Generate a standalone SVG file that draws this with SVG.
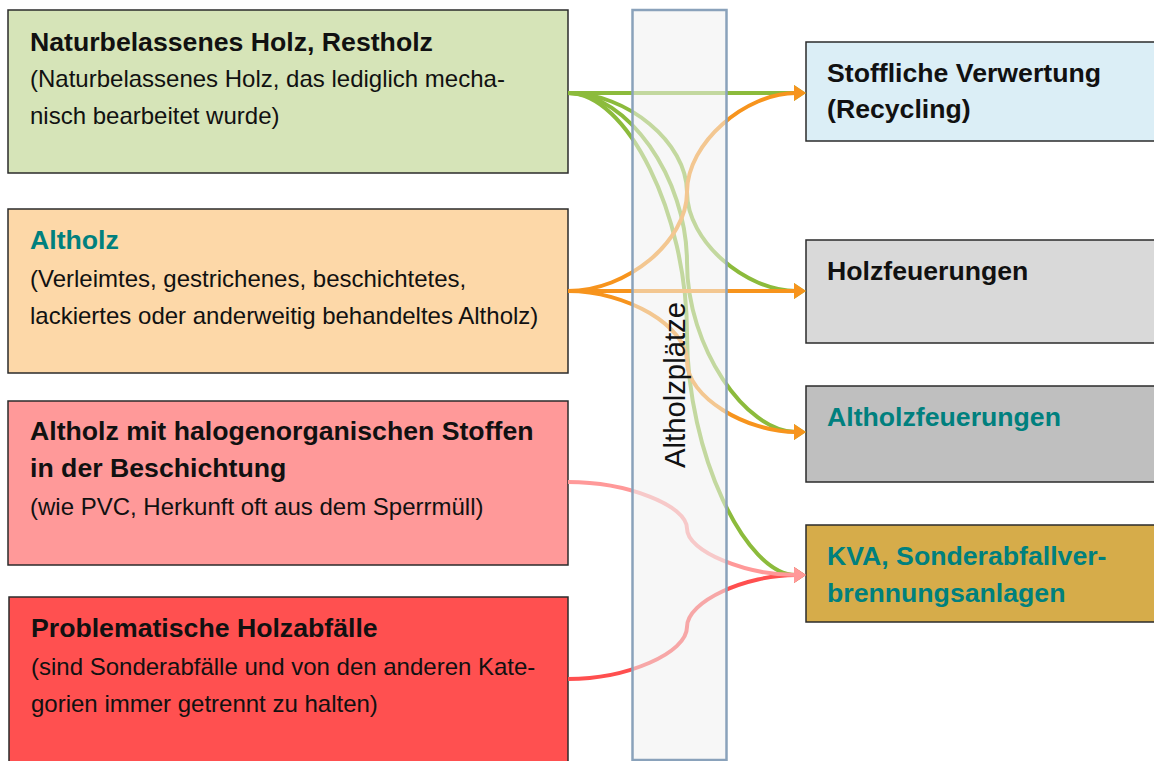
<svg xmlns="http://www.w3.org/2000/svg" width="1154" height="761" viewBox="0 0 1154 761">
<style>
  .box { stroke: #2b2b2b; stroke-width: 1.5; }
  .t { font-family: "Liberation Sans", Arial, sans-serif; font-size: 26.67px; font-weight: bold; fill: #111; }
  .teal { fill: #00807e; }
  .s { font-family: "Liberation Sans", Arial, sans-serif; font-size: 24px; fill: #111; }
  .c { fill: none; stroke-width: 4; }
  .g { stroke: #8cbb3c; }
  .o { stroke: #f7941d; }
  .p { stroke: #ff9999; }
  .r { stroke: #ff4f4f; }
</style>
<defs>
  <marker id="ag" markerUnits="userSpaceOnUse" markerWidth="16" markerHeight="18" viewBox="0 -9 16 18" refX="2" refY="0" orient="auto"><path d="M0,-8 L12,0 L0,8 z" fill="#8cbb3c"/></marker>
  <marker id="ao" markerUnits="userSpaceOnUse" markerWidth="16" markerHeight="18" viewBox="0 -9 16 18" refX="2" refY="0" orient="auto"><path d="M0,-8 L12,0 L0,8 z" fill="#f7941d"/></marker>
  <marker id="ap" markerUnits="userSpaceOnUse" markerWidth="16" markerHeight="18" viewBox="0 -9 16 18" refX="2" refY="0" orient="auto"><path d="M0,-8 L12,0 L0,8 z" fill="#ff9999"/></marker>
  <marker id="ar" markerUnits="userSpaceOnUse" markerWidth="16" markerHeight="18" viewBox="0 -9 16 18" refX="2" refY="0" orient="auto"><path d="M0,-8 L12,0 L0,8 z" fill="#ff4f4f"/></marker>
</defs>
<rect width="1154" height="761" fill="#ffffff"/>

<g id="n1">
  <rect class="box" x="8" y="10" width="560" height="163" fill="#d6e4b8"/>
  <text class="t" x="30" y="51">Naturbelassenes Holz, Restholz</text>
  <text class="s" x="30" y="87">(Naturbelassenes Holz, das lediglich mecha-</text>
  <text class="s" x="30" y="124">nisch bearbeitet wurde)</text>
</g>
<g id="n2">
  <rect class="box" x="8" y="209" width="560" height="164" fill="#fdd8a8"/>
  <text class="t teal" x="30" y="249">Altholz</text>
  <text class="s" x="30" y="287">(Verleimtes, gestrichenes, beschichtetes,</text>
  <text class="s" x="30" y="324">lackiertes oder anderweitig behandeltes Altholz)</text>
</g>
<g id="n3">
  <rect class="box" x="8" y="401" width="560" height="164" fill="#ff9999"/>
  <text class="t" x="30" y="440">Altholz mit halogenorganischen Stoffen</text>
  <text class="t" x="30" y="477">in der Beschichtung</text>
  <text class="s" x="30" y="515">(wie PVC, Herkunft oft aus dem Sperrmüll)</text>
</g>
<g id="n4">
  <rect class="box" x="9" y="597" width="559" height="170" fill="#ff5050"/>
  <text class="t" x="31" y="637">Problematische Holzabfälle</text>
  <text class="s" x="31" y="675">(sind Sonderabfälle und von den anderen Kate-</text>
  <text class="s" x="31" y="712">gorien immer getrennt zu halten)</text>
</g>

<g id="r1">
  <rect class="box" x="806" y="42" width="360" height="99" fill="#dbeef6"/>
  <text class="t" x="827" y="82">Stoffliche Verwertung</text>
  <text class="t" x="827" y="118">(Recycling)</text>
</g>
<g id="r2">
  <rect class="box" x="806" y="240" width="360" height="103" fill="#d9d9d9"/>
  <text class="t" x="827" y="280">Holzfeuerungen</text>
</g>
<g id="r3">
  <rect class="box" x="806" y="386" width="360" height="96" fill="#bfbfbf"/>
  <text class="t teal" x="827" y="426">Altholzfeuerungen</text>
</g>
<g id="r4">
  <rect class="box" x="806" y="525" width="360" height="97" fill="#d6ac4a"/>
  <text class="t teal" x="827" y="565">KVA, Sonderabfallver-</text>
  <text class="t teal" x="827" y="602">brennungsanlagen</text>
</g>

<g id="connectors">
  <path class="c g" marker-end="url(#ag)" d="M568,93 H796"/>
  <path class="c g" marker-end="url(#ag)" d="M568,93 C627,93 687,142.5 687,192 C687,241.5 746,291 796,291"/>
  <path class="c g" marker-end="url(#ag)" d="M568,93 C627,93 687,177.75 687,262.5 C687,347.25 746,432 796,432"/>
  <path class="c g" marker-end="url(#ag)" d="M568,93 C627,93 687,213.5 687,334 C687,454.5 746,575 796,575"/>
  <path class="c o" marker-end="url(#ao)" d="M568,291 C627,291 687,241.5 687,192 C687,142.5 746,93 796,93"/>
  <path class="c o" marker-end="url(#ao)" d="M568,291 H796"/>
  <path class="c o" marker-end="url(#ao)" d="M568,291 C627,291 687,326.25 687,361.5 C687,396.75 746,432 796,432"/>
  <path class="c r" marker-end="url(#ar)" d="M568,679 C627,679 687,653 687,627 C687,601 746,575 796,575"/>
  <path class="c p" marker-end="url(#ap)" d="M568,482 C627,482 687,505.25 687,528.5 C687,551.75 746,575 796,575"/>
</g>

<g id="band">
  <rect x="632.5" y="10" width="94" height="750" fill="#f0f0f0" fill-opacity="0.55" stroke="#8aa2bb" stroke-width="2.5"/>
  <text x="685" y="385" transform="rotate(-90 685 385)" text-anchor="middle" font-family="'Liberation Sans', Arial, sans-serif" font-size="29.3" fill="#111">Altholzplätze</text>
</g>
</svg>
